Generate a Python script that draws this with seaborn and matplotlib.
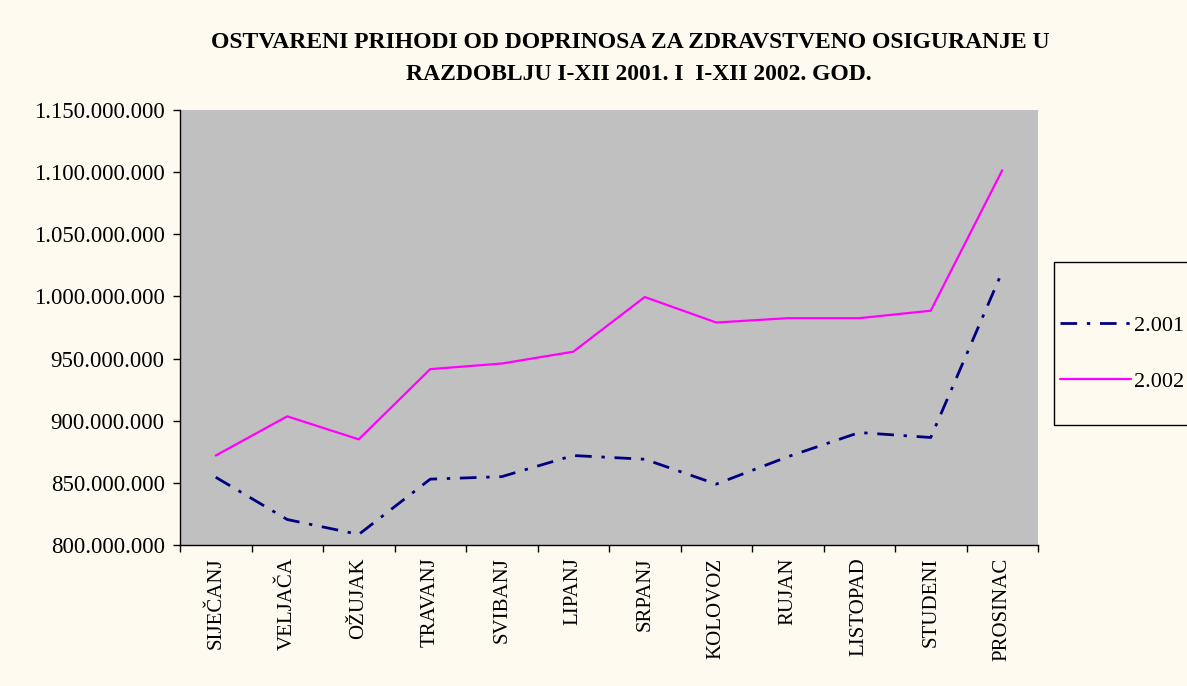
import matplotlib
matplotlib.use("Agg")
import matplotlib.pyplot as plt
import seaborn as sns
import pandas as pd
import numpy as np
from matplotlib.ticker import FuncFormatter, FixedLocator
from matplotlib.patches import Rectangle

months = ["SIJEČANJ", "VELJAČA", "OŽUJAK", "TRAVANJ", "SVIBANJ", "LIPANJ",
          "SRPANJ", "KOLOVOZ", "RUJAN", "LISTOPAD", "STUDENI", "PROSINAC"]
series_names = ["2.001", "2.002"]
values_2001 = [854.5e6, 820.5e6, 808.5e6, 853e6, 855e6, 872e6,
               869e6, 849e6, 871e6, 890.5e6, 886.5e6, 1020e6]
values_2002 = [872e6, 903.5e6, 885e6, 941.5e6, 946e6, 955.5e6,
               999.5e6, 979e6, 982.5e6, 982.5e6, 988.5e6, 1101.5e6]
y_ticks = [800e6, 850e6, 900e6, 950e6, 1000e6, 1050e6, 1100e6, 1150e6]
title_lines = ["OSTVARENI PRIHODI OD DOPRINOSA ZA ZDRAVSTVENO OSIGURANJE U",
               "RAZDOBLJU I-XII 2001. I  I-XII 2002. GOD."]

sns.set_theme(style="white")
plt.rcParams['font.family'] = ['Liberation Serif', 'DejaVu Serif']
plt.rcParams['text.color'] = 'black'
plt.rcParams['xtick.color'] = 'black'
plt.rcParams['ytick.color'] = 'black'
plt.rcParams['xtick.labelcolor'] = 'black'
plt.rcParams['ytick.labelcolor'] = 'black'

df = pd.DataFrame({
    "idx": list(range(len(months))) * 2,
    "value": values_2001 + values_2002,
    "year": [series_names[0]] * len(months) + [series_names[1]] * len(months),
})

bg = "#FFFAF0"
W, H = 1187, 686
fig = plt.figure(figsize=(W/100, H/100), dpi=100, facecolor=bg)
ax = fig.add_axes([180/W, 1-545/H, (1038-180)/W, (545-110)/H])
ax.set_facecolor("#C0C0C0")

sns.lineplot(data=df, x="idx", y="value", hue="year", style="year",
             palette={"2.001": "#000080", "2.002": "#FF00FF"},
             dashes={"2.001": (6, 3.5, 1.2, 3.5), "2.002": ""},
             ax=ax, legend=False, sort=False)
lines = ax.get_lines()
lines[0].set_linewidth(2.0)
lines[1].set_linewidth(1.6)

ax.set_xlim(-0.5, len(months) - 0.5)
ax.set_ylim(800e6, 1150e6)
ax.set_yticks(y_ticks)
ax.yaxis.set_major_formatter(FuncFormatter(lambda v, p: f"{int(round(v)):,}".replace(",", ".")))
ax.set_xticks(range(len(months)))
ax.set_xticklabels(months, rotation=90, fontsize=15)
ax.xaxis.set_minor_locator(FixedLocator(np.arange(-0.5, len(months), 1.0)))
ax.tick_params(axis="x", which="major", length=0, pad=9)
ax.tick_params(axis="x", which="minor", length=5, width=1, color="black", direction="out", bottom=True)
ax.tick_params(axis="y", which="major", length=5, width=1, color="black", direction="out", left=True, labelsize=16.5, pad=6)
ax.set_xlabel("")
ax.set_ylabel("")
for s in ["top", "right"]:
    ax.spines[s].set_visible(False)
for s in ["left", "bottom"]:
    ax.spines[s].set_color("black")
    ax.spines[s].set_linewidth(1)

fig.text(630/W, 1-42/H, title_lines[0], ha="center", va="center",
         fontsize=17, fontweight="bold")
fig.text(639/W, 1-75/H, title_lines[1], ha="center", va="center",
         fontsize=17, fontweight="bold")

# legend frame (extends past the right edge, as in the reference)
fig.patches.append(Rectangle((1054/W, 1-425/H), 200/W, 163/H,
                             transform=fig.transFigure, facecolor=bg,
                             edgecolor="black", linewidth=1, zorder=0))
leg = fig.legend(handles=lines, labels=series_names, loc="upper left",
                 bbox_to_anchor=(1060/W, 1-315/H), frameon=False,
                 fontsize=16, handlelength=3.2, labelspacing=1.6,
                 borderpad=0, handletextpad=0.15, borderaxespad=0)

fig.savefig("out.png", dpi=100, facecolor=bg)
